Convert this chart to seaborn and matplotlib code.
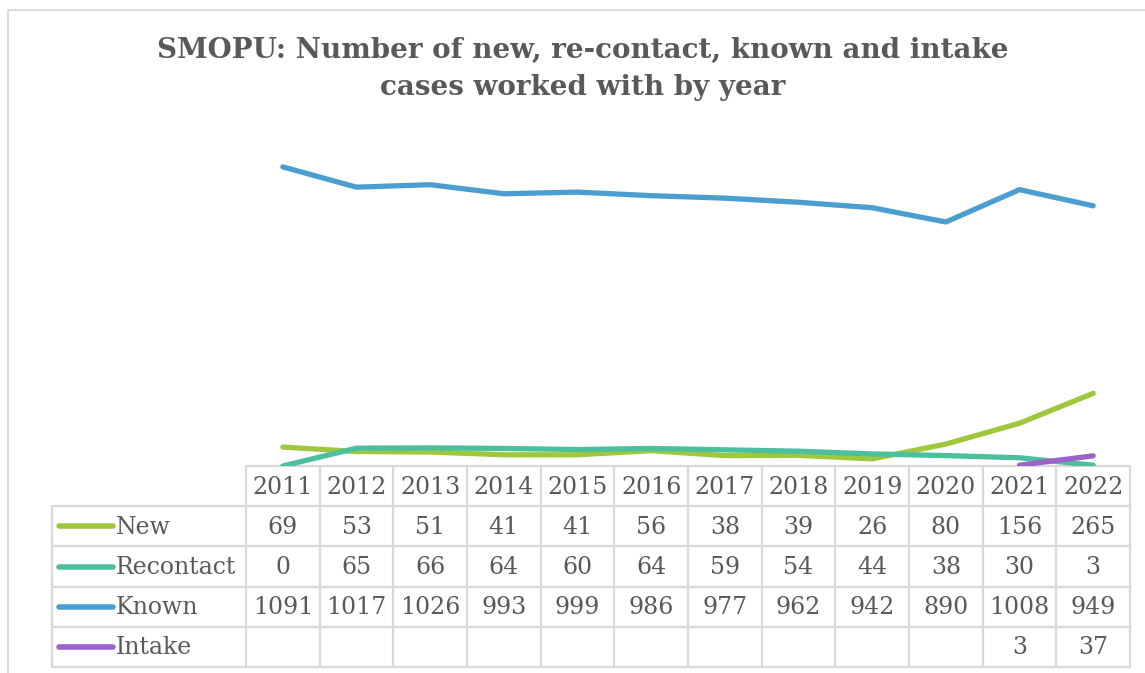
import numpy as np
import pandas as pd
import matplotlib
matplotlib.use("Agg")
import matplotlib.pyplot as plt
import seaborn as sns

years = ["2011", "2012", "2013", "2014", "2015", "2016", "2017", "2018", "2019", "2020", "2021", "2022"]
new_cases = [69, 53, 51, 41, 41, 56, 38, 39, 26, 80, 156, 265]
recontact_cases = [0, 65, 66, 64, 60, 64, 59, 54, 44, 38, 30, 3]
known_cases = [1091, 1017, 1026, 993, 999, 986, 977, 962, 942, 890, 1008, 949]
intake_cases = [None, None, None, None, None, None, None, None, None, None, 3, 37]

series_names = ["New", "Recontact", "Known", "Intake"]
series_values = [new_cases, recontact_cases, known_cases, intake_cases]
series_colors = ["#9fc73c", "#4cbf9f", "#4a9fd0", "#9b63c9"]

title_text = "SMOPU: Number of new, re-contact, known and intake\ncases worked with by year"

W, H = 1145, 673
DPI = 100
sns.set_theme(style="white")
plt.rcParams["font.family"] = ["DejaVu Serif"]
TEXT = "#595959"
GRID = "#d9d9d9"

fig = plt.figure(figsize=(W / DPI, H / DPI), dpi=DPI)

# Overlay axes in pixel coordinates for the frame, title and data table
ov = fig.add_axes([0, 0, 1, 1])
ov.set_xlim(0, W)
ov.set_ylim(H, 0)
ov.axis("off")

# Chart frame (top and left edges)
ov.plot([8, 8, W + 5], [H + 5, 10, 10], color=GRID, lw=1.4)

ov.text(583, 69, title_text, ha="center", va="center", fontsize=20,
        fontweight="bold", color=TEXT, linespacing=1.5)

# Table geometry (pixels)
tab_left = 52
col0_right = 246
col_right = 1130
n = len(years)
col_w = (col_right - col0_right) / n
row_top = 466
row_h = 40.2
n_rows = len(series_names)

# Plot area aligned with the table columns
plot_top = 137
ax = fig.add_axes([col0_right / W, 1 - row_top / H,
                   (col_right - col0_right) / W, (row_top - plot_top) / H])
ax.patch.set_alpha(0)
long_df = []
for name, vals in zip(series_names, series_values):
    for i, v in enumerate(vals):
        long_df.append({"series": name, "x": i, "value": np.nan if v is None else v})
long_df = pd.DataFrame(long_df)
sns.lineplot(data=long_df, x="x", y="value", hue="series", hue_order=series_names,
             palette=series_colors, linewidth=3.8, legend=False, ax=ax,
             solid_capstyle="round")
ax.set_xlim(-0.5, n - 0.5)
ax.set_ylim(0, 1200)
ax.axis("off")

# Table grid
lw = 1.6
ov.plot([col0_right, col_right], [row_top, row_top], color=GRID, lw=lw)
bottom = row_top + row_h * (n_rows + 1)
for r in range(1, n_rows + 2):
    y = row_top + row_h * r
    ov.plot([tab_left, col_right], [y, y], color=GRID, lw=lw)
ov.plot([tab_left, tab_left], [row_top + row_h, bottom], color=GRID, lw=lw)
for c in range(n + 1):
    x = col0_right + c * col_w
    ov.plot([x, x], [row_top, bottom], color=GRID, lw=lw)

fs = 17
for i, yr in enumerate(years):
    ov.text(col0_right + (i + 0.5) * col_w, row_top + row_h / 2 + 1, yr,
            ha="center", va="center", fontsize=fs, color=TEXT)

for r, (name, vals, colr) in enumerate(zip(series_names, series_values, series_colors)):
    yc = row_top + row_h * (r + 1.5)
    ov.plot([59, 113], [yc, yc], color=colr, lw=4, solid_capstyle="round")
    ov.text(116, yc + 1, name, ha="left", va="center", fontsize=fs, color=TEXT)
    for i, v in enumerate(vals):
        if v is not None:
            ov.text(col0_right + (i + 0.5) * col_w, yc + 1, str(v),
                    ha="center", va="center", fontsize=fs, color=TEXT)

fig.savefig("out.png", dpi=DPI)
